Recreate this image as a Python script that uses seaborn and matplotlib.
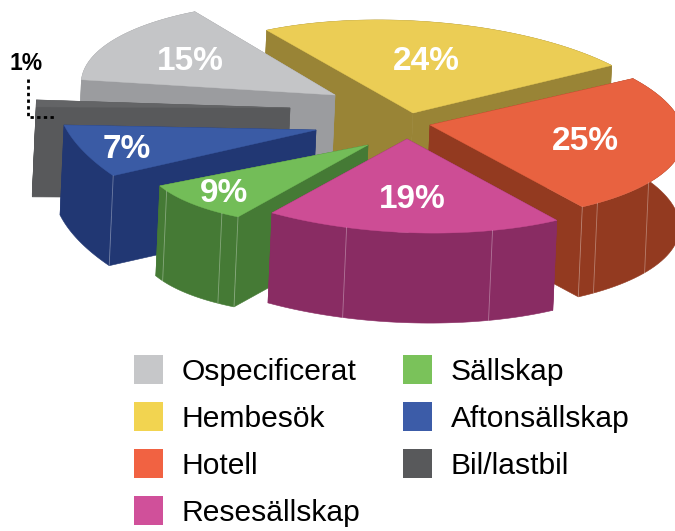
import numpy as np
import matplotlib
matplotlib.use('Agg')
import matplotlib.pyplot as plt
from matplotlib.patches import Patch
import seaborn as sns

# Data, clockwise from the grey slice
categories = ['Ospecificerat', 'Hembesök', 'Hotell', 'Resesällskap', 'Sällskap', 'Aftonsällskap', 'Bil/lastbil']
shares = [15, 24, 25, 19, 9, 7, 1]
share_labels = ['15%', '24%', '25%', '19%', '9%', '7%', '1%']

# Colours
top_colors = ['#c4c5c7', '#ebcd55', '#e86240', '#cd4d95', '#73bd58', '#3a5ba5', '#636466']
wall_colors = ['#9b9c9f', '#998436', '#933a20', '#892c63', '#457a35', '#213773', '#58595b']
legend_colors = ['#c6c7c9', '#f2d450', '#f16242', '#d0509a', '#7ac25a', '#3c5ca8', '#58595b']

# Pie layout (canvas is in pixels)
center_x, center_y = 400, 125
start_angle = 277
explode_x = [-65, 13, 30, 7, -32, -84, -110]
explode_y = [-30, -12, 0, 14, 20, 5, -17]
# the ellipse of each slice: x = a sin + b cos, y = c sin + e cos
shape_a = [253, 253, 253, 253, 225, 248, 253]
shape_b = [-20, -27, -19, -16, -2, -74, -20]
shape_c = [4, 3, 5, 4, -12, -2, -5.5]
shape_e = [-93, -93, -94, -94, -80, -118, -111]
wall_dx, wall_dy = -4, 90
draw_order = [1, 0, 6, 2, 5, 4, 3]
seam_angles = [[], [], [124.8, 143, 147.4], [163.9, 197.4], [215.8, 221, 244], [248.2], []]
label_x = [190, 426, 585, 412, 224, 127, 26]
label_y = [61, 62, 142, 200, 193, 149, 64]

sns.set_theme(style='white')
plt.rcParams['font.family'] = ['Liberation Sans', 'DejaVu Sans']

fig = plt.figure(figsize=(6.75, 5.31), dpi=100)
ax = fig.add_axes([0, 0, 1, 1])
ax.set_xlim(0, 675)
ax.set_ylim(531, 0)
ax.axis('off')


def arc_point(i, angle):
    t = np.radians(angle)
    x = center_x + explode_x[i] + shape_a[i] * np.sin(t) + shape_b[i] * np.cos(t)
    y = center_y + explode_y[i] + shape_c[i] * np.sin(t) + shape_e[i] * np.cos(t)
    return x, y


edges = start_angle + np.cumsum([0] + shares) * 3.6

for i in draw_order:
    apex = (center_x + explode_x[i], center_y + explode_y[i])
    x, y = arc_point(i, np.linspace(edges[i], edges[i + 1], 50))

    # three wall faces, the ones further back go first
    faces = [
        (np.array([apex[0], x[0]]), np.array([apex[1], y[0]])),
        (np.array([apex[0], x[-1]]), np.array([apex[1], y[-1]])),
        (x, y),
    ]
    faces.sort(key=lambda f: f[1].mean())
    for fx, fy in faces:
        ax.fill(np.r_[fx, fx[::-1] + wall_dx], np.r_[fy, fy[::-1] + wall_dy],
                color=wall_colors[i], lw=0.4)

    # light seams on the front of the walls
    for a in seam_angles[i]:
        sx, sy = arc_point(i, a)
        ax.plot([sx, sx + wall_dx], [sy, sy + wall_dy], color='white', lw=0.6, alpha=0.35)

    ax.fill(np.r_[apex[0], x], np.r_[apex[1], y], color=top_colors[i], lw=0.3)

for i, label in enumerate(share_labels):
    if label == '1%':
        ax.text(label_x[i], label_y[i], label, color='black', fontsize=16.5, fontweight='bold',
                ha='center', va='center')
    else:
        ax.text(label_x[i], label_y[i], label, color='white', fontsize=24, fontweight='bold',
                ha='center', va='center')

# dotted leader for the 1% label
ax.plot([28, 28, 55], [79, 117, 117], color='black', lw=2, ls=(0, (1.2, 1.2)))

handles = [Patch(facecolor=c, edgecolor='none', label=n) for c, n in zip(legend_colors, categories)]
ax.legend(handles=handles, ncols=2, frameon=False, fontsize=21.6, loc='upper left',
          bbox_to_anchor=(134 / 675, 1 - 355 / 531), borderaxespad=0, borderpad=0,
          handlelength=0.97, handleheight=1.1, handletextpad=0.63,
          labelspacing=0.55, columnspacing=1.4, labelcolor='black')

fig.savefig('out.png', dpi=100)
